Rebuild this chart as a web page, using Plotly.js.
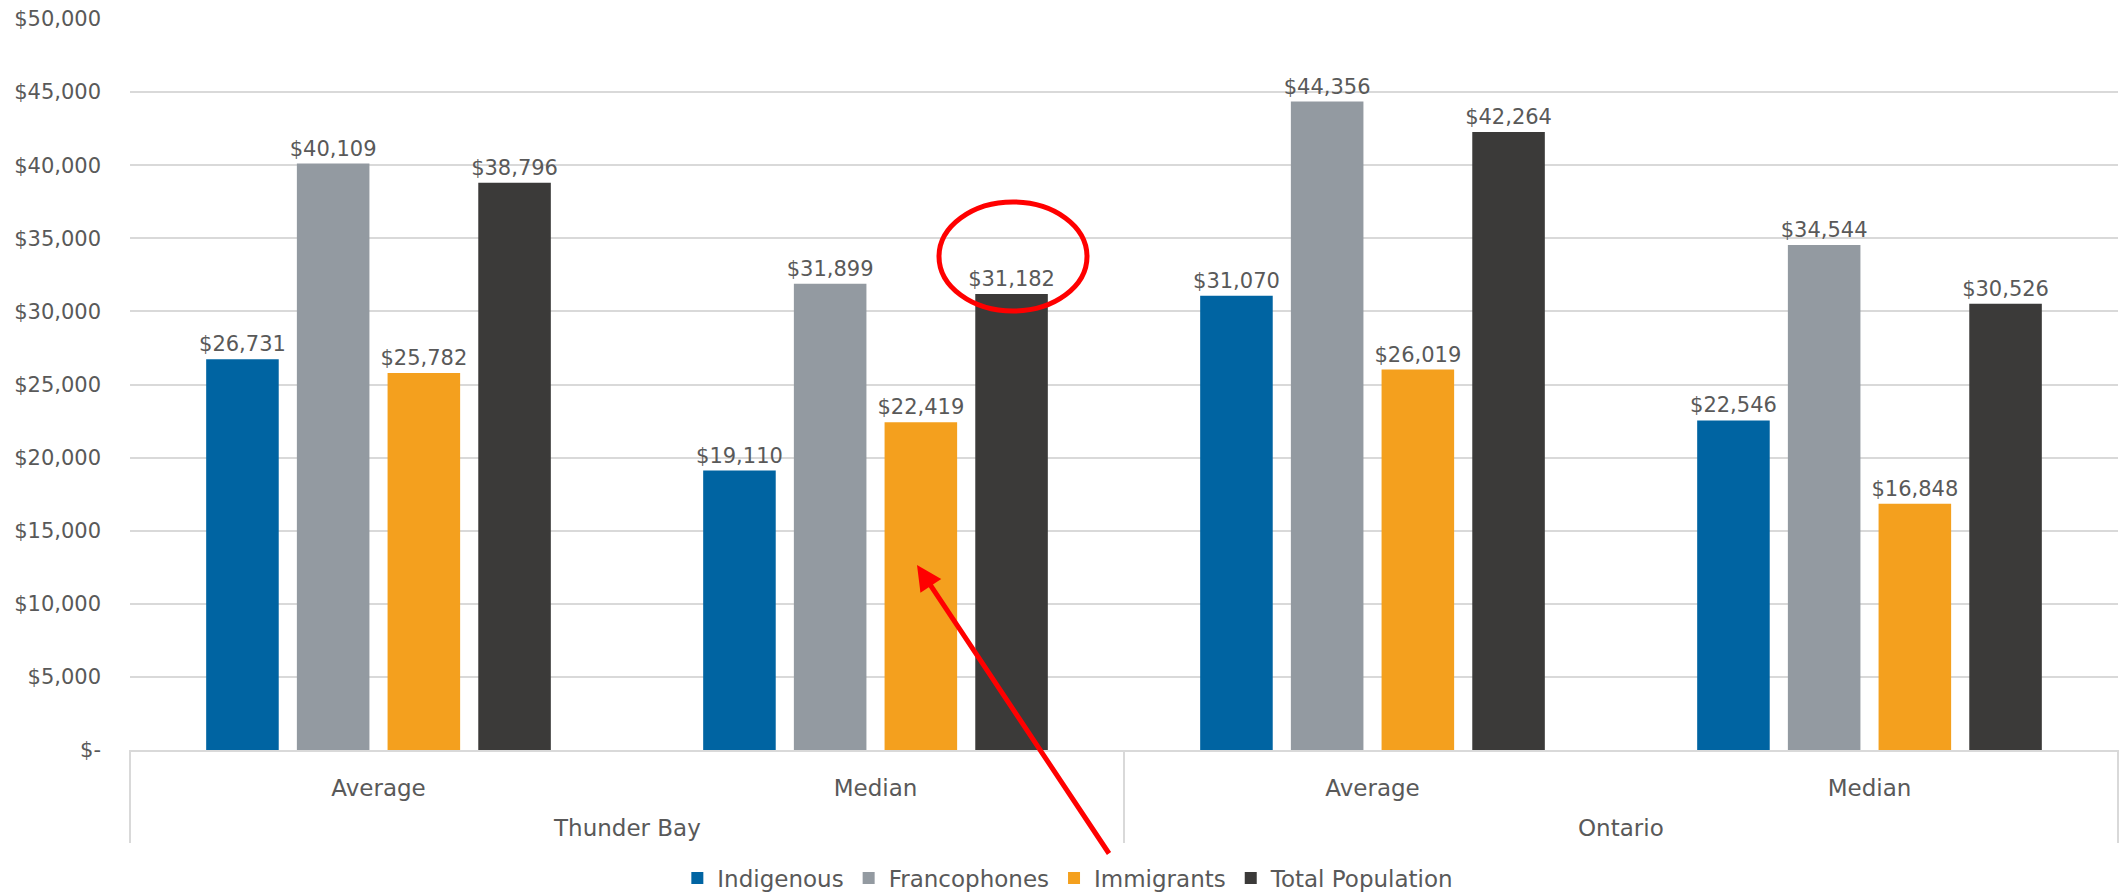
<!DOCTYPE html>
<html>
<head>
<meta charset="utf-8">
<script src="https://cdn.plot.ly/plotly-3.0.1.min.js"></script>
<style>
  html, body { margin: 0; padding: 0; background: #ffffff; }
  #chart { width: 2121px; height: 895px; }
</style>
</head>
<body>
<div id="chart"></div>
<script>
// ---- Data ----
const regions = ['Thunder Bay', 'Thunder Bay', 'Ontario', 'Ontario'];
const measures = ['Average', 'Median', 'Average', 'Median'];
const regionLabels = ['Thunder Bay', 'Ontario'];
const seriesNames = ['Indigenous', 'Francophones', 'Immigrants', 'Total Population'];
const indigenous = [26731, 19110, 31070, 22546];
const francophones = [40109, 31899, 44356, 34544];
const immigrants = [25782, 22419, 26019, 16848];
const totalPopulation = [38796, 31182, 42264, 30526];
const yTickVals = [0, 5000, 10000, 15000, 20000, 25000, 30000, 35000, 40000, 45000, 50000];
const yTickText = ['$-', '$5,000', '$10,000', '$15,000', '$20,000', '$25,000', '$30,000', '$35,000', '$40,000', '$45,000', '$50,000'];

const colors = ['#0064A2', '#939AA1', '#F4A01E', '#3B3A39'];
const seriesValues = [indigenous, francophones, immigrants, totalPopulation];
const FONT = 'DejaVu Sans, sans-serif';
const TXT = '#595959';
const LINE = '#D9D9D9';

// unique category keys (region + measure); tick labels show the measure only
const xKeys = regions.map((r, i) => r + ' | ' + measures[i]);

const traces = seriesValues.map((vals, i) => ({
  type: 'bar',
  name: seriesNames[i],
  x: xKeys,
  y: vals,
  marker: { color: colors[i], line: { width: 0 } },
  text: vals.map(v => '$' + v.toLocaleString('en-US')),
  textposition: 'outside',
  constraintext: 'none',
  textfont: { family: FONT, size: 21, color: TXT },
  cliponaxis: false,
  hoverinfo: 'none'
}));

// Plot-area geometry helpers (paper fractions)
const PLOT_H = 731;
const labelAreaBottom = -93 / PLOT_H;   // divider length below axis
const outerLabelY = -78 / PLOT_H;       // region label centre

const regionCenters = [0.25, 0.75];
const dividerXs = [0, 0.5, 1];

const shapes = dividerXs.map(x => ({
  type: 'line', xref: 'paper', yref: 'paper',
  x0: x, x1: x, y0: 0, y1: labelAreaBottom,
  line: { color: LINE, width: 2 }
}));
shapes.push({
  type: 'circle',
  xref: 'paper', yref: 'paper',
  x0: (939 - 130) / 1988, x1: (1087 - 130) / 1988,
  y0: (750 - 311) / PLOT_H, y1: (750 - 202) / PLOT_H,
  line: { color: '#FF0000', width: 5 },
  fillcolor: 'rgba(0,0,0,0)'
});

const annotations = regionLabels.map((r, i) => ({
  xref: 'paper', yref: 'paper',
  x: regionCenters[i], y: outerLabelY,
  xanchor: 'center', yanchor: 'middle',
  text: r, showarrow: false,
  font: { family: FONT, size: 23, color: TXT }
}));
annotations.push({
  xref: 'paper', yref: 'paper',
  x: (917 - 130) / 1988, y: (750 - 565) / PLOT_H,
  ax: 193, ay: 290,
  text: '',
  showarrow: true,
  arrowhead: 2,
  arrowsize: 1,
  arrowwidth: 5,
  arrowcolor: '#FF0000'
});

const layout = {
  width: 2121,
  height: 895,
  margin: { l: 130, r: 3, t: 19, b: 145 },
  paper_bgcolor: '#ffffff',
  plot_bgcolor: '#ffffff',
  font: { family: FONT, size: 21, color: TXT },
  barmode: 'group',
  bargap: 0.27,
  bargroupgap: 0.2,
  showlegend: true,
  legend: {
    orientation: 'h',
    xref: 'paper', yref: 'container',
    x: 0.472, xanchor: 'center',
    y: 17 / 895, yanchor: 'middle',
    font: { family: FONT, size: 23, color: TXT },
    itemwidth: 30,
    traceorder: 'normal'
  },
  xaxis: {
    type: 'category',
    tickvals: xKeys,
    ticktext: measures,
    showline: true,
    linecolor: LINE,
    linewidth: 2,
    ticks: '',
    tickfont: { family: FONT, size: 23, color: TXT },
    ticklabelstandoff: 16,
    showgrid: false,
    zeroline: false,
    automargin: false
  },
  yaxis: {
    range: [0, 50000],
    tickvals: yTickVals,
    ticktext: yTickText,
    tickfont: { family: FONT, size: 21, color: TXT },
    showgrid: true,
    gridcolor: LINE,
    gridwidth: 2,
    zeroline: false,
    showline: false,
    ticks: '',
    ticklabelstandoff: 28,
    automargin: false
  },
  shapes: shapes,
  annotations: annotations
};

Plotly.newPlot('chart', traces, layout, { displayModeBar: false, staticPlot: true });
</script>
</body>
</html>
